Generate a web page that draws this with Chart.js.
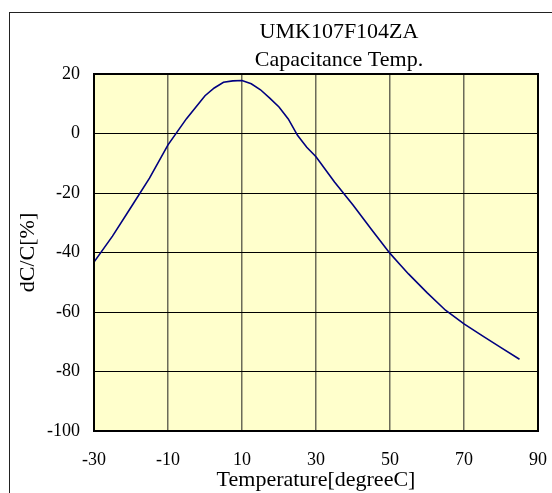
<!DOCTYPE html>
<html>
<head>
<meta charset="utf-8">
<script src="https://cdn.jsdelivr.net/npm/chart.js@4/dist/chart.umd.min.js"></script>
<style>
html,body{margin:0;padding:0;background:#fff;}
#wrap{width:552px;height:493px;position:relative;}
</style>
</head>
<body>
<div id="wrap"><canvas id="c" width="552" height="493"></canvas></div>
<script>
const titleLines = ["UMK107F104ZA", "Capacitance Temp."];
const xAxisTitle = "Temperature[degreeC]";
const yAxisTitle = "dC/C[%]";
const temperatures = [-30,-25,-20,-15,-10,-5,0,2.5,5,7.5,10,12.5,15,17.5,20,22.5,25,27.5,30,35,40,45,50,52.5,55,60,65,70,75,80,85];
const dcValues = [-43.2,-34.5,-24.8,-15.0,-3.8,5.0,12.7,15.3,17.2,17.7,17.8,16.7,14.7,11.9,8.9,4.9,-0.6,-4.6,-7.8,-16.3,-24.0,-32.3,-40.3,-43.8,-47.2,-53.5,-59.4,-64.0,-68.0,-72.0,-75.9];
const xTicks = [-30,-10,10,30,50,70,90];
const yTicks = [20,0,-20,-40,-60,-80,-100];

const FONT = "'Liberation Serif', 'Times New Roman', serif";

const decor = {
  id: 'decor',
  beforeDraw(chart) {
    const {ctx, chartArea: a} = chart;
    ctx.save();
    ctx.fillStyle = '#fff';
    ctx.fillRect(0, 0, chart.width, chart.height);
    ctx.strokeStyle = '#222';
    ctx.lineWidth = 1;
    ctx.strokeRect(9.5, 12.5, 700, 700);
    ctx.fillStyle = '#FFFFCC';
    ctx.fillRect(a.left, a.top, a.right - a.left, a.bottom - a.top);
    ctx.fillStyle = '#000';
    ctx.font = "22px " + FONT;
    ctx.textAlign = 'center';
    ctx.textBaseline = 'alphabetic';
    ctx.fillText(titleLines[0], 339, 38);
    ctx.fillText(titleLines[1], 339, 66);
    ctx.restore();
  },
  afterDraw(chart) {
    const {ctx, chartArea: a} = chart;
    ctx.save();
    ctx.strokeStyle = '#000';
    ctx.lineWidth = 2;
    ctx.strokeRect(a.left, a.top, a.right - a.left, a.bottom - a.top);
    ctx.restore();
  }
};

new Chart(document.getElementById('c'), {
  type: 'line',
  data: {
    datasets: [{
      data: temperatures.map((t, i) => ({x: t, y: dcValues[i]})),
      borderColor: '#000080',
      borderWidth: 1.6,
      pointRadius: 0,
      tension: 0,
      fill: false
    }]
  },
  options: {
    responsive: false,
    animation: false,
    devicePixelRatio: 1,
    layout: {padding: {top: 74, right: 14, left: 0, bottom: 0}},
    plugins: {legend: {display: false}, tooltip: {enabled: false}, title: {display: false}},
    scales: {
      x: {
        type: 'linear', min: -30, max: 90,
        afterBuildTicks(s) { s.ticks = xTicks.map(v => ({value: v})); },
        afterFit(s) { s.height = 62; s.paddingLeft = 0; s.paddingRight = 0; },
        grid: {color: '#6b6b58', lineWidth: 1.5, drawTicks: false},
        border: {display: false},
        ticks: {color: '#000', font: {family: FONT, size: 18}, padding: 18, maxRotation: 0, autoSkip: false},
        title: {display: true, text: xAxisTitle, color: '#000', font: {family: FONT, size: 22}, padding: {top: 0, bottom: 0}}
      },
      y: {
        type: 'linear', min: -100, max: 20,
        afterBuildTicks(s) { s.ticks = yTicks.map(v => ({value: v})); },
        afterFit(s) { s.width = 94; s.paddingTop = 0; s.paddingBottom = 0; },
        grid: {color: '#000', lineWidth: 1, drawTicks: false},
        border: {display: false},
        ticks: {color: '#000', font: {family: FONT, size: 18}, padding: 14, autoSkip: false},
        title: {display: true, text: yAxisTitle, color: '#000', font: {family: FONT, size: 22}, padding: {top: 15, bottom: 0}}
      }
    }
  },
  plugins: [decor]
});
</script>
</body>
</html>
